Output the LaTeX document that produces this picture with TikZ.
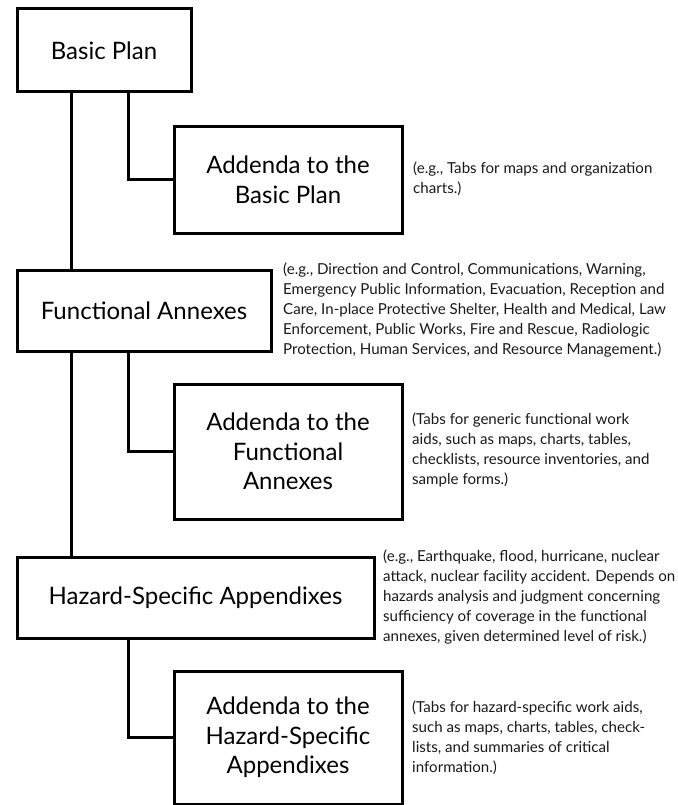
\documentclass[tikz,border=0pt]{standalone}
\usepackage{fontspec}
\setmainfont{Lato}
\begin{document}
\begin{tikzpicture}[x=1pt,y=-1pt,
  box/.style={draw=black, line width=3pt, fill=white, inner sep=0pt, align=center,
    font=\fontsize{24}{29.5}\selectfont, anchor=north west},
  note/.style={inner sep=0pt, align=left, anchor=north west, text=black!90,
    font=\fontsize{15.1}{20}\selectfont},
  conn/.style={draw=black, line width=3pt}]
\useasboundingbox (0,0) rectangle (677,805);
\node[box, minimum width=174, minimum height=83] (bp) at (15.5,7.5) {Basic Plan};
\node[box, minimum width=228, minimum height=106] (ad1) at (172.5,125.5) {Addenda to the\\Basic Plan};
\node[box, minimum width=254, minimum height=81] (fa) at (15.5,268.5) {Functional Annexes};
\node[box, minimum width=228, minimum height=135] (ad2) at (172.5,382.5) {Addenda to the\\Functional\\Annexes};
\node[box, minimum width=357, minimum height=81] (hz) at (15.5,555.5) {Hazard-Specific Appendixes};
\node[box, minimum width=228, minimum height=133] (ad3) at (172.5,669.5) {Addenda to the\\Hazard-Specific\\Appendixes};
\coordinate (tx) at (71,0);
\coordinate (bx) at (128,0);
\draw[conn] (bp.south -| tx) -- (fa.north -| tx);
\draw[conn] (fa.south -| tx) -- (hz.north -| tx);
\draw[conn] (bp.south -| bx) |- (ad1.west);
\draw[conn] (fa.south -| bx) |- (ad2.west);
\draw[conn] (hz.south -| bx) |- (ad3.west);
\node[note] (n1) at (413,162) {(e.g., Tabs for maps and organization\\charts.)};
\node[note] (n2) at (283,263) {(e.g., Direction and Control, Communications, Warning,\\Emergency Public Information, Evacuation, Reception and\\Care, In-place Protective Shelter, Health and Medical, Law\\Enforcement, Public Works, Fire and Rescue, Radiologic\\Protection, Human Services, and Resource Management.)};
\node[note] (n3) at (412,413) {(Tabs for generic functional work\\aids, such as maps, charts, tables,\\checklists, resource inventories, and\\sample forms.)};
\node[note] (n4) at (383,550) {(e.g., Earthquake, flood, hurricane, nuclear\\attack, nuclear facility accident. Depends on\\hazards analysis and judgment concerning\\sufficiency of coverage in the functional\\annexes, given determined level of risk.)};
\node[note] (n5) at (412,701) {(Tabs for hazard-specific work aids,\\such as maps, charts, tables, check-\\lists, and summaries of critical\\information.)};
\end{tikzpicture}
\end{document}
